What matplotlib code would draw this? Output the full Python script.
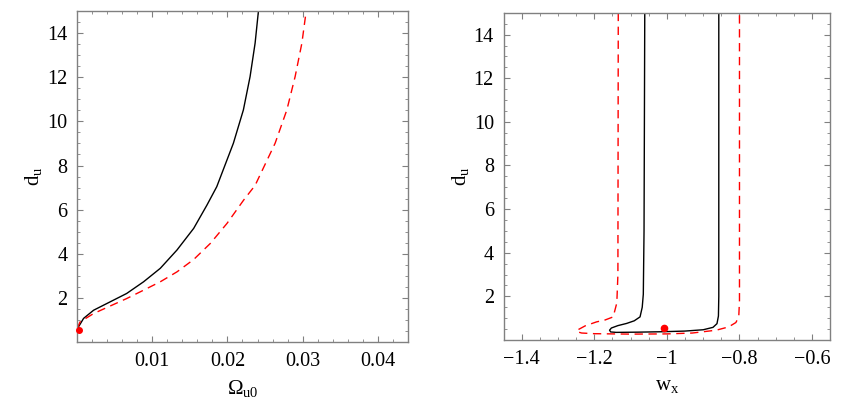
import numpy as np
import matplotlib
matplotlib.use("Agg")
import matplotlib.pyplot as plt
from matplotlib.ticker import MultipleLocator, FixedLocator

plt.rcParams['font.family'] = ['Liberation Serif', 'DejaVu Serif']
plt.rcParams['mathtext.fontset'] = 'custom'
plt.rcParams['mathtext.rm'] = 'Liberation Serif'
plt.rcParams['mathtext.it'] = 'Liberation Serif:italic'

# left panel: d_u vs Omega_u0
om_black = [0.0, 0.0002, 0.00087, 0.0022, 0.0044, 0.0066, 0.00885, 0.01107, 0.01329,
            0.01551, 0.01728, 0.01858, 0.02079, 0.02212, 0.02301, 0.02368, 0.02412]
du_black = [0.45, 0.69, 1.07, 1.44, 1.82, 2.20, 2.73, 3.34, 4.17,
            5.15, 6.21, 7.04, 9.01, 10.52, 12.03, 13.55, 15.0]
om_red = [0.0, 0.0004, 0.0022, 0.0044, 0.0066, 0.00885, 0.01107, 0.01329, 0.01551,
          0.01773, 0.01995, 0.02217, 0.02368, 0.02634, 0.0279, 0.029, 0.0299, 0.03047]
du_red = [0.60, 0.91, 1.29, 1.63, 1.97, 2.35, 2.73, 3.18, 3.74,
          4.47, 5.38, 6.44, 7.10, 9.01, 10.52, 12.03, 13.55, 15.0]
best_om, best_du_l = 0.0002, 0.55

# right panel: d_u vs w_x (closed contours)
wx_black = [-1.061, -1.063, -1.065, -1.068, -1.074, -1.090, -1.111, -1.135, -1.153,
            -1.158, -1.155, -1.140, -1.080, -1.011, -0.950, -0.900, -0.873, -0.862,
            -0.858, -0.857, -0.857]
du_black_r = [15.0, 5.0, 2.1, 1.5, 1.06, 0.88, 0.76, 0.66, 0.55,
              0.45, 0.37, 0.35, 0.36, 0.38, 0.41, 0.47, 0.58, 0.75,
              1.10, 2.0, 15.0]
wx_red = [-1.134, -1.135, -1.138, -1.148, -1.170, -1.194, -1.225, -1.245, -1.249,
          -1.235, -1.200, -1.100, -1.000, -0.930, -0.864, -0.830, -0.810, -0.802,
          -0.800, -0.800]
du_red_r = [15.0, 3.0, 1.7, 1.06, 0.92, 0.83, 0.65, 0.47, 0.39,
            0.32, 0.29, 0.27, 0.28, 0.32, 0.45, 0.60, 0.80, 1.06,
            1.8, 15.0]
best_wx, best_du_r = -1.008, 0.56

fig = plt.figure(figsize=(8.55, 4.07), dpi=100)
ax1 = fig.add_axes([0.0901, 0.1597, 0.387, 0.813])
ax2 = fig.add_axes([0.589, 0.1646, 0.382, 0.804])

dash = (0, (6, 4))
ax1.plot(om_black, du_black, color='black', lw=1.0)
ax1.plot(om_red, du_red, color='red', lw=1.0, linestyle=dash)
ax1.plot(best_om, best_du_l, 'o', color='red', ms=4, clip_on=False, zorder=5)

ax2.plot(wx_black, du_black_r, color='black', lw=1.0)
ax2.plot(wx_red, du_red_r, color='red', lw=1.0, linestyle=dash)
ax2.plot(best_wx, best_du_r, 'o', color='red', ms=4.5, zorder=5)

ax1.set_xlim(0, 0.044)
ax1.set_ylim(0, 15)
ax1.xaxis.set_major_locator(FixedLocator([0.01, 0.02, 0.03, 0.04]))
ax1.xaxis.set_minor_locator(MultipleLocator(0.002))
ax1.set_xticklabels(['0.01', '0.02', '0.03', '0.04'])
ax1.set_xlabel(r'$\mathrm{\Omega_{u0}}$', fontsize=15, labelpad=5)

ax2.set_xlim(-1.45, -0.55)
ax2.set_ylim(0, 15)
ax2.xaxis.set_major_locator(FixedLocator([-1.4, -1.2, -1.0, -0.8, -0.6]))
ax2.xaxis.set_minor_locator(MultipleLocator(0.05))
ax2.set_xticklabels(['\u22121.4', '\u22121.2', '\u22121', '\u22120.8', '\u22120.6'])
ax2.set_xlabel(r'$\mathrm{w_x}$', fontsize=15, labelpad=5)

for ax in (ax1, ax2):
    ax.yaxis.set_major_locator(FixedLocator([2, 4, 6, 8, 10, 12, 14]))
    ax.yaxis.set_minor_locator(MultipleLocator(0.5))
    ax.set_ylabel(r'$\mathrm{d_u}$', fontsize=15, labelpad=2)
    for s in ax.spines.values():
        s.set_color('#808080')
        s.set_linewidth(1.0)
    ax.tick_params(which='both', direction='in', top=True, right=True,
                   color='#808080', labelsize=14.5)
    ax.tick_params(which='major', length=4, width=0.8, pad=7)
    ax.tick_params(which='minor', length=2, width=0.6)

fig.savefig('out.png', dpi=100)
